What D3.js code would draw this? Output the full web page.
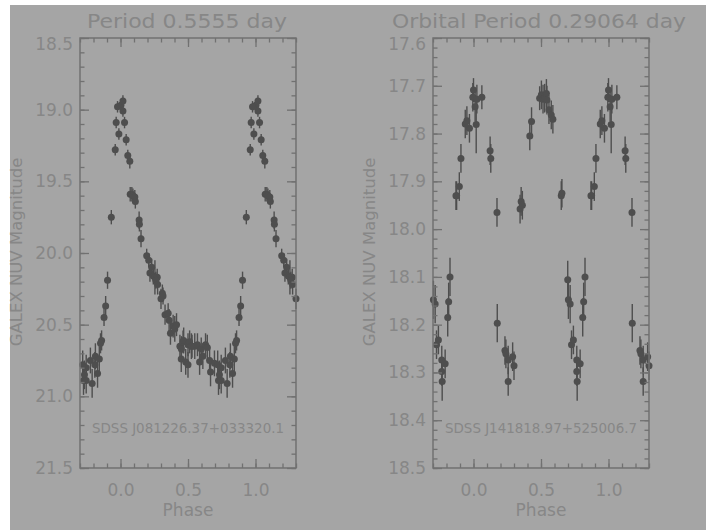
<!DOCTYPE html>
<html>
<head>
<meta charset="utf-8">
<script src="https://cdn.jsdelivr.net/npm/d3@7"></script>
<style>
  body { margin: 0; background: #fff; }
  svg { display: block; }
  text { font-family: "DejaVu Sans", sans-serif; fill: #878787; }
</style>
</head>
<body>
<svg id="chart" width="706" height="531"></svg>
<script>
// ---- data (phase in [0,1), folded copies drawn at +-1) ----
const leftPhase = [0.003, 0.018, 0.018, 0.030, 0.042, 0.054, 0.069, 0.961, 0.968, 0.978, 0.988, 0.932,
  0.904, 0.890, 0.878, 0.860, 0.852, 0.072, 0.084, 0.092, 0.106, 0.110, 0.138, 0.140, 0.152, 0.194,
  0.209, 0.231, 0.218, 0.243, 0.255, 0.272, 0.262, 0.275, 0.300, 0.310, 0.315, 0.330, 0.353, 0.360,
  0.370, 0.390, 0.402, 0.415, 0.440, 0.451, 0.463, 0.468, 0.450, 0.483, 0.500, 0.500, 0.512, 0.525,
  0.530, 0.550, 0.570, 0.586, 0.598, 0.610, 0.630, 0.643, 0.660, 0.667, 0.696, 0.720, 0.726, 0.733,
  0.746, 0.746, 0.777, 0.790, 0.810, 0.814, 0.830, 0.843];
const leftMag = [18.97, 18.94, 19.01, 19.09, 19.21, 19.32, 19.36, 19.28, 19.09, 18.98, 19.17, 19.75,
  20.19, 20.37, 20.45, 20.61, 20.63, 19.59, 19.59, 19.60, 19.61, 19.64, 19.77, 19.80, 19.90, 20.02,
  20.05, 20.10, 20.14, 20.16, 20.17, 20.17, 20.19, 20.22, 20.32, 20.28, 20.30, 20.43, 20.42, 20.47,
  20.56, 20.51, 20.53, 20.50, 20.65, 20.67, 20.62, 20.61, 20.74, 20.76, 20.64, 20.78, 20.62, 20.65,
  20.65, 20.65, 20.64, 20.76, 20.67, 20.72, 20.64, 20.66, 20.75, 20.83, 20.77, 20.78, 20.89, 20.85,
  20.80, 20.89, 20.75, 20.91, 20.78, 20.72, 20.84, 20.74];
const leftErr = [0.04, 0.04, 0.04, 0.04, 0.04, 0.04, 0.05, 0.04, 0.04, 0.04, 0.04, 0.05,
  0.06, 0.07, 0.06, 0.07, 0.07, 0.05, 0.05, 0.05, 0.05, 0.05, 0.06, 0.05, 0.06, 0.05,
  0.05, 0.06, 0.06, 0.06, 0.12, 0.06, 0.06, 0.07, 0.07, 0.06, 0.06, 0.07, 0.07, 0.08,
  0.08, 0.08, 0.09, 0.08, 0.08, 0.09, 0.08, 0.09, 0.09, 0.09, 0.08, 0.09, 0.08, 0.09,
  0.08, 0.09, 0.08, 0.09, 0.08, 0.09, 0.08, 0.09, 0.09, 0.10, 0.09, 0.10, 0.10, 0.10,
  0.09, 0.09, 0.09, 0.10, 0.09, 0.09, 0.10, 0.09];

const rightPhase = [0.000, 0.995, 0.025, 0.062, 0.012, 0.951, 0.970, 0.939, 0.020, 0.123, 0.128,
  0.907, 0.895, 0.875, 0.870, 0.174, 0.353, 0.345, 0.362, 0.430, 0.417, 0.490, 0.503, 0.515, 0.527,
  0.540, 0.544, 0.559, 0.576, 0.588, 0.650, 0.655, 0.176, 0.233, 0.240, 0.257, 0.290, 0.300, 0.257,
  0.698, 0.703, 0.716, 0.826, 0.816, 0.809, 0.726, 0.740, 0.765, 0.790, 0.765, 0.768];
const rightMag = [17.709, 17.724, 17.728, 17.724, 17.744, 17.773, 17.789, 17.780, 17.781, 17.836, 17.852,
  17.852, 17.911, 17.930, 17.930, 17.965, 17.942, 17.958, 17.950, 17.775, 17.805, 17.726, 17.719, 17.728, 17.726,
  17.716, 17.730, 17.750, 17.761, 17.770, 17.930, 17.925, 18.197, 18.254, 18.261, 18.274, 18.267, 18.286, 18.319,
  18.106, 18.148, 18.157, 18.100, 18.152, 18.185, 18.242, 18.232, 18.274, 18.282, 18.298, 18.319];
const rightErr = [0.025, 0.03, 0.03, 0.025, 0.03, 0.03, 0.03, 0.03, 0.06, 0.03, 0.03,
  0.03, 0.03, 0.03, 0.03, 0.03, 0.03, 0.03, 0.03, 0.03, 0.03, 0.025, 0.03, 0.03, 0.03,
  0.03, 0.03, 0.03, 0.03, 0.03, 0.03, 0.03, 0.04, 0.03, 0.03, 0.03, 0.03, 0.03, 0.03,
  0.04, 0.04, 0.04, 0.04, 0.04, 0.04, 0.03, 0.03, 0.03, 0.03, 0.03, 0.04];

const xTicks = [0.0, 0.5, 1.0];
const leftYTicks = [18.5, 19.0, 19.5, 20.0, 20.5, 21.0, 21.5];
const rightYTicks = [17.6, 17.7, 17.8, 17.9, 18.0, 18.1, 18.2, 18.3, 18.4, 18.5];

const svg = d3.select("#chart");
const axisColor = "#717171", pointColor = "#4e4e4e";

// grey plot area
svg.append("rect").attr("x", 10).attr("y", 5).attr("width", 696).attr("height", 525)
  .attr("fill", "#a5a5a5");

function drawPanel(cfg) {
  const x = d3.scaleLinear().domain([-0.3, 1.3]).range([cfg.left, cfg.left + 216]);
  const y = d3.scaleLinear().domain(cfg.yDomain).range([38, 468]);
  const g = svg.append("g");

  // points, each phase drawn at p-1, p, p+1 when inside the window
  const pts = [];
  cfg.phase.forEach((p, i) => {
    [-1, 0, 1].forEach(k => {
      const q = p + k;
      if (q >= -0.3 && q <= 1.3) pts.push({ p: q, m: cfg.mag[i], e: cfg.err[i] });
    });
  });
  g.selectAll("line.err").data(pts).join("line").attr("class", "err")
    .attr("x1", d => x(d.p)).attr("x2", d => x(d.p))
    .attr("y1", d => y(d.m - d.e)).attr("y2", d => y(d.m + d.e))
    .attr("stroke", pointColor).attr("stroke-width", 1.4);
  g.selectAll("circle").data(pts).join("circle")
    .attr("cx", d => x(d.p)).attr("cy", d => y(d.m)).attr("r", 3.5)
    .attr("fill", pointColor);

  // minor ticks
  const xMinor = d3.range(-3, 14).map(v => v / 10);
  const yMinor = d3.range(Math.round(cfg.yDomain[0] / cfg.minor), Math.round(cfg.yDomain[1] / cfg.minor) + 1)
    .map(v => +(v * cfg.minor).toFixed(3));
  const styleAxis = sel => {
    sel.select(".domain").remove();
    sel.selectAll("line").attr("stroke", axisColor).attr("stroke-width", 1.3);
  };
  g.append("g").attr("transform", "translate(0,468)")
    .call(d3.axisBottom(x).tickValues(xMinor).tickSize(-4.5).tickFormat("")).call(styleAxis);
  g.append("g").attr("transform", "translate(0,38)")
    .call(d3.axisTop(x).tickValues(xMinor).tickSize(-4.5).tickFormat("")).call(styleAxis);
  g.append("g").attr("transform", `translate(${cfg.left},0)`)
    .call(d3.axisLeft(y).tickValues(yMinor).tickSize(-4.5).tickFormat("")).call(styleAxis);
  g.append("g").attr("transform", `translate(${cfg.left + 216},0)`)
    .call(d3.axisRight(y).tickValues(yMinor).tickSize(-4.5).tickFormat("")).call(styleAxis);

  // major ticks + labels
  const bx = g.append("g").attr("transform", "translate(0,468)")
    .call(d3.axisBottom(x).tickValues(xTicks).tickSize(-9).tickPadding(16).tickFormat(d3.format(".1f")))
    .call(styleAxis);
  bx.selectAll("text").style("font-size", "17px").attr("fill", "#878787");
  g.append("g").attr("transform", "translate(0,38)")
    .call(d3.axisTop(x).tickValues(xTicks).tickSize(-9).tickFormat("")).call(styleAxis);
  const ly = g.append("g").attr("transform", `translate(${cfg.left},0)`)
    .call(d3.axisLeft(y).tickValues(cfg.yTicks).tickSize(-9).tickPadding(7).tickFormat(d3.format(".1f")))
    .call(styleAxis);
  ly.selectAll("text").style("font-size", "17px").attr("fill", "#878787")
    .attr("y", d => d === cfg.yDomain[0] ? 6 : 0);
  g.append("g").attr("transform", `translate(${cfg.left + 216},0)`)
    .call(d3.axisRight(y).tickValues(cfg.yTicks).tickSize(-9).tickFormat("")).call(styleAxis);

  // frame
  g.append("rect").attr("x", cfg.left).attr("y", 38).attr("width", 216).attr("height", 430)
    .attr("fill", "none").attr("stroke", axisColor).attr("stroke-width", 1.5);

  const cx = cfg.left + 108;
  g.append("text").attr("x", cfg.titleX).attr("y", 28).attr("text-anchor", "middle")
    .style("font-size", "20px").attr("textLength", cfg.titleW).attr("lengthAdjust", "spacingAndGlyphs")
    .text(cfg.title);
  g.append("text").attr("x", cx).attr("y", 516).attr("text-anchor", "middle")
    .style("font-size", "17px").text("Phase");
  g.append("text").attr("transform", `translate(${cfg.left - 58},252) rotate(-90)`)
    .attr("text-anchor", "middle").style("font-size", "16.5px").text("GALEX NUV Magnitude");
  g.append("text").attr("x", cx).attr("y", 433).attr("text-anchor", "middle")
    .style("font-size", "14px").attr("textLength", 192).attr("lengthAdjust", "spacingAndGlyphs")
    .text(cfg.name);
}

drawPanel({
  left: 80, yDomain: [18.5, 21.5], yTicks: leftYTicks, minor: 0.1,
  phase: leftPhase, mag: leftMag, err: leftErr,
  title: "Period 0.5555 day", titleX: 187, titleW: 200,
  name: "SDSS J081226.37+033320.1"
});
drawPanel({
  left: 433, yDomain: [17.6, 18.5], yTicks: rightYTicks, minor: 0.02,
  phase: rightPhase, mag: rightMag, err: rightErr,
  title: "Orbital Period 0.29064 day", titleX: 539, titleW: 294,
  name: "SDSS J141818.97+525006.7"
});
</script>
</body>
</html>
